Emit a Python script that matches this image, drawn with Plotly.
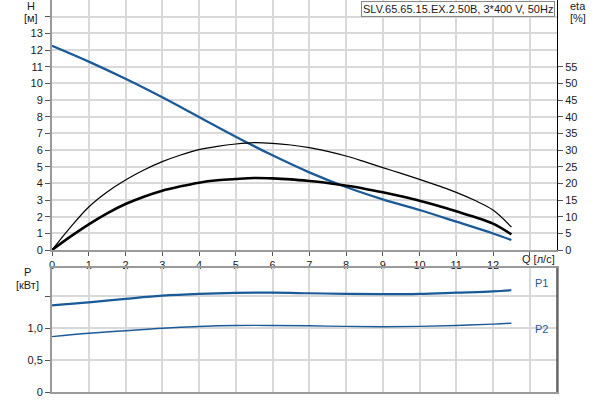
import plotly.graph_objects as go

# ---------------- data ----------------
q_h = [0, 1, 2, 3, 4, 5, 6, 7, 8, 9, 10, 11, 12, 12.5]
head = [12.25, 11.3, 10.27, 9.16, 7.98, 6.8, 5.68, 4.66, 3.78, 3.04, 2.4, 1.7, 0.99, 0.6]

q_eta = [0, 0.5, 1, 1.5, 2, 2.5, 3, 3.5, 4, 4.5, 5, 5.5, 6, 6.5, 7, 7.5, 8, 8.5, 9, 9.5,
         10, 10.5, 11, 11.5, 12, 12.5]
eta_thin = [0, 6.8, 12.9, 17.4, 21.0, 24.0, 26.5, 28.5, 30.1, 31.1, 31.8, 32.2, 32.0, 31.5,
            30.7, 29.6, 28.2, 26.5, 24.7, 23.0, 21.2, 19.3, 17.3, 14.9, 12.0, 6.9]
eta_thick = [0, 4.0, 7.7, 11.0, 13.8, 16.0, 17.8, 19.1, 20.2, 20.9, 21.3, 21.6, 21.5, 21.2,
             20.7, 20.1, 19.3, 18.4, 17.3, 16.1, 14.8, 13.3, 11.6, 9.9, 7.9, 4.7]

q_p = [0, 1, 2, 3, 4, 5, 6, 7, 8, 9, 10, 11, 12, 12.5]
p1 = [1.355, 1.40, 1.455, 1.505, 1.533, 1.548, 1.552, 1.543, 1.533, 1.528, 1.533, 1.552, 1.572, 1.59]
p2 = [0.866, 0.917, 0.958, 0.997, 1.024, 1.039, 1.04, 1.035, 1.025, 1.02, 1.025, 1.04, 1.061, 1.075]

x_ticks = list(range(0, 14))
x_labels = [str(v) for v in range(0, 13)] + [""]
h_ticks = list(range(0, 15))
h_labels = [str(v) for v in range(0, 14)] + [""]
eta_ticks = list(range(0, 60, 5))
p_ticks = [0, 0.5, 1.0, 1.5]
p_labels = ["0", "0,5", "1,0", ""]

title_text = "SLV.65.65.15.EX.2.50B, 3*400 V, 50Hz"

# ---------------- figure ----------------
W, H = 600, 400
L, R, T, B = 52, 43, 0, 8
PW, PH = W - L - R, H - T - B

def px(x):
    return (x - L) / PW

def py(y):
    return 1 - (y - T) / PH

BLUE = "#1b5a98"
GRID = "#d9d9d9"
AXC = "#9a9a9a"
FONT = dict(family="Liberation Sans, Arial, sans-serif", size=11, color="#1a1a1a")

fig = go.Figure()
fig.add_trace(go.Scatter(x=q_eta, y=eta_thin, xaxis="x", yaxis="y2", mode="lines",
                         line=dict(color="black", width=1.2, shape="spline", smoothing=1),
                         showlegend=False))
fig.add_trace(go.Scatter(x=q_eta, y=eta_thick, xaxis="x", yaxis="y2", mode="lines",
                         line=dict(color="black", width=2.6, shape="spline", smoothing=1),
                         showlegend=False))
fig.add_trace(go.Scatter(x=q_h, y=head, xaxis="x", yaxis="y", mode="lines",
                         line=dict(color=BLUE, width=2.3, shape="spline", smoothing=1),
                         showlegend=False))
fig.add_trace(go.Scatter(x=q_p, y=p1, xaxis="x2", yaxis="y3", mode="lines",
                         line=dict(color=BLUE, width=2.2, shape="spline", smoothing=1),
                         showlegend=False))
fig.add_trace(go.Scatter(x=q_p, y=p2, xaxis="x2", yaxis="y3", mode="lines",
                         line=dict(color=BLUE, width=1.4, shape="spline", smoothing=1),
                         showlegend=False))

xr = [0, (557 - 52) / 36.75]
top_lo = py(250)
bot_hi = py(268)

fig.update_layout(
    width=W, height=H,
    margin=dict(l=L, r=R, t=T, b=B),
    paper_bgcolor="white", plot_bgcolor="white",
    font=FONT,
    xaxis=dict(domain=[0, 1], range=xr, anchor="y", tickvals=x_ticks, ticktext=x_labels,
               showgrid=True, gridcolor=GRID, gridwidth=1.5, zeroline=False,
               showline=True, linecolor=AXC, linewidth=2, ticks="outside", ticklen=4,
               tickcolor="#555", tickfont=FONT, automargin=False),
    yaxis=dict(domain=[top_lo, 1], range=[0, 15], anchor="x", tickvals=h_ticks, ticktext=h_labels,
               showgrid=True, gridcolor=GRID, gridwidth=1.5, zeroline=False,
               showline=True, linecolor=AXC, linewidth=2, ticks="outside", ticklen=5,
               tickcolor="#555", tickfont=FONT, automargin=False),
    yaxis2=dict(overlaying="y", side="right", range=[0, 75], anchor="x", tickvals=eta_ticks,
                showgrid=False, zeroline=False, showline=True, linecolor="black", linewidth=1,
                ticks="outside", ticklen=5, tickcolor="#555", tickfont=FONT, automargin=False),
    xaxis2=dict(domain=[0, 1], range=xr, anchor="y3", tickvals=x_ticks, showticklabels=False,
                showgrid=True, gridcolor=GRID, gridwidth=1.5, zeroline=False,
                showline=True, linecolor=AXC, linewidth=2, mirror=True, ticks="",
                automargin=False),
    yaxis3=dict(domain=[0, bot_hi], range=[0, 124 / 64], anchor="x2", tickvals=p_ticks,
                ticktext=p_labels, showgrid=True, gridcolor=GRID, gridwidth=1.5, zeroline=False,
                showline=True, linecolor=AXC, linewidth=2, mirror=True, ticks="outside",
                ticklen=5, tickcolor="#555", tickfont=FONT, automargin=False),
)

# darker right border on lower panel
fig.add_shape(type="line", xref="paper", yref="paper", x0=1, x1=1, y0=0, y1=bot_hi,
              line=dict(color="#555", width=1.5))

def ann(text, x, y, color="#1a1a1a", **kw):
    fig.add_annotation(text=text, xref="paper", yref="paper", x=px(x), y=py(y),
                       showarrow=False, font=dict(FONT, color=color), xanchor="center",
                       yanchor="middle", **kw)

ann("H", 31, 6)
ann("[м]", 31, 18)
ann("eta", 578, 6)
ann("[%]", 578, 18)
ann("P", 27, 272)
ann("[кВт]", 27, 285)
ann("Q [л/с]", 538, 259)
ann("P1", 541, 283, color=BLUE)
ann("P2", 541, 329, color=BLUE)

fig.add_annotation(text=title_text, xref="paper", yref="paper", x=px(555), y=py(0.5),
                   xanchor="right", yanchor="top", showarrow=False,
                   font=dict(FONT, size=11, color="#1a1a1a"),
                   bgcolor="white", bordercolor="#888", borderwidth=1, borderpad=1)

fig.write_html("out.html", config={"displayModeBar": False},
               post_script="document.body.style.margin='0';")
